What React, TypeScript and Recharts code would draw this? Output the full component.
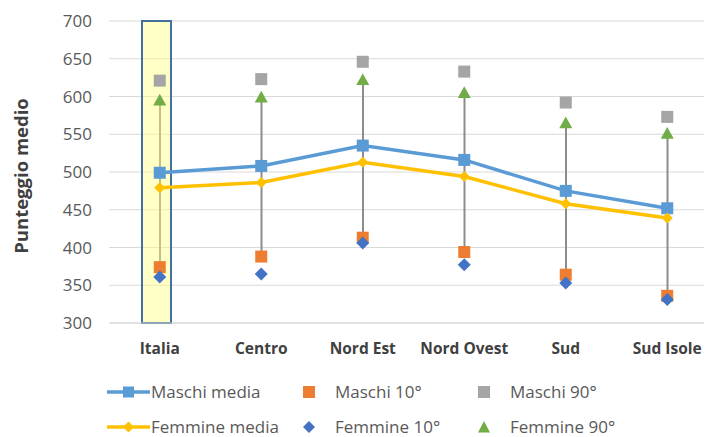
import { Bar, CartesianGrid, ComposedChart, Line, XAxis, YAxis } from 'recharts';

const categories = ['Italia', 'Centro', 'Nord Est', 'Nord Ovest', 'Sud', 'Sud Isole'];
const maschiMedia = [499, 508, 535, 516, 475, 452];
const femmineMedia = [479, 486, 513, 494, 458, 439];
const maschi10 = [374, 388, 413, 394, 364, 336];
const femmine10 = [361, 365, 406, 377, 353, 331];
const maschi90 = [621, 623, 646, 633, 592, 573];
const femmine90 = [595, 599, 622, 605, 565, 551];
const highlighted = ['Italia'];
const yTicks = [300, 350, 400, 450, 500, 550, 600, 650, 700];

const FONT = '"Open Sans", sans-serif';
const BLUE = '#5B9BD5';
const YELLOW = '#FFC000';
const ORANGE = '#ED7D31';
const GRAY = '#A5A5A5';
const DBLUE = '#4472C4';
const GREEN = '#70AD47';

const data = categories.map((name, i) => ({
  name,
  maschiMedia: maschiMedia[i],
  femmineMedia: femmineMedia[i],
  maschi10: maschi10[i],
  femmine10: femmine10[i],
  maschi90: maschi90[i],
  femmine90: femmine90[i],
  range: [maschi10[i], femmine90[i]],
  box: highlighted.includes(name) ? [yTicks[0], yTicks[yTicks.length - 1]] : null,
}));

const square = (color: string, size: number) => (p: any) => {
  if (p.cx == null || p.cy == null) return <g key={p.key} />;
  return <rect key={p.key} x={p.cx - size / 2} y={p.cy - size / 2} width={size} height={size} fill={color} />;
};

const diamond = (color: string, r: number) => (p: any) => {
  if (p.cx == null || p.cy == null) return <g key={p.key} />;
  const { cx, cy } = p;
  return <path key={p.key} d={`M${cx},${cy - r}L${cx + r},${cy}L${cx},${cy + r}L${cx - r},${cy}Z`} fill={color} />;
};

const triangle = (color: string, r: number) => (p: any) => {
  if (p.cx == null || p.cy == null) return <g key={p.key} />;
  const { cx, cy } = p;
  return <path key={p.key} d={`M${cx},${cy - r}L${cx + r},${cy + r * 0.8}L${cx - r},${cy + r * 0.8}Z`} fill={color} />;
};

const BoxShape = (p: any) => {
  if (!p.height) return null;
  return (
    <rect
      x={p.x - 3}
      y={p.y}
      width={p.width}
      height={p.height}
      fill="#FFFF80"
      fillOpacity={0.45}
      stroke="#41719C"
      strokeWidth={2}
    />
  );
};

// legend rows: centre y inside the wrapper
const legendItems = [
  { label: 'Maschi media', kind: 'lineSquare', color: BLUE, left: 99, cy: 384 },
  { label: 'Maschi 10°', kind: 'square', color: ORANGE, left: 285, cy: 384 },
  { label: 'Maschi 90°', kind: 'square', color: GRAY, left: 460, cy: 384 },
  { label: 'Femmine media', kind: 'lineDiamond', color: YELLOW, left: 99, cy: 419 },
  { label: 'Femmine 10°', kind: 'diamond', color: DBLUE, left: 285, cy: 419 },
  { label: 'Femmine 90°', kind: 'triangle', color: GREEN, left: 460, cy: 419 },
];

const LegendIcon = ({ kind, color }: { kind: string; color: string }) => {
  if (kind === 'lineSquare' || kind === 'lineDiamond') {
    return (
      <svg width={43} height={16} style={{ display: 'block' }}>
        <line x1={0} y1={8} x2={43} y2={8} stroke={color} strokeWidth={3.5} />
        {kind === 'lineSquare' ? (
          <rect x={16} y={2.5} width={11} height={11} fill={color} />
        ) : (
          <path d="M21.5,2.5L27,8L21.5,13.5L16,8Z" fill={color} />
        )}
      </svg>
    );
  }
  return (
    <svg width={30} height={16} style={{ display: 'block' }}>
      {kind === 'square' && <rect x={10} y={2} width={12} height={12} fill={color} />}
      {kind === 'diamond' && <path d="M16,2L22,8L16,14L10,8Z" fill={color} />}
      {kind === 'triangle' && <path d="M16,2L22,13.5L10,13.5Z" fill={color} />}
    </svg>
  );
};

const App = () => {
  return (
    <div style={{ position: 'relative', width: 704, height: 429, fontFamily: FONT }}>
      <ComposedChart
        width={704}
        height={429}
        data={data}
        margin={{ top: 13, right: -6, left: 0, bottom: 84 }}
        barGap={0}
      >
        <CartesianGrid vertical={false} stroke="#D9D9D9" />
        <XAxis
          dataKey="name"
          axisLine={{ stroke: '#D9D9D9' }}
          tickLine={false}
          tickMargin={14}
          height={30}
          interval={0}
          tick={{ fill: '#404040', fontSize: 15.5, fontWeight: 700, fontFamily: FONT }}
        />
        <XAxis xAxisId="hl" dataKey="name" hide />
        <YAxis
          domain={[300, 700]}
          ticks={yTicks}
          width={101}
          axisLine={false}
          tickLine={false}
          tickMargin={11}
          interval={0}
          tick={{ fill: '#595959', fontSize: 17, fontFamily: FONT }}
          label={{
            content: (p: any) => {
              const vb = p.viewBox;
              const cx = vb.x + 12;
              const cy = vb.y + vb.height / 2 + 4;
              return (
                <text
                  x={cx}
                  y={cy}
                  transform={`rotate(-90 ${cx} ${cy})`}
                  textAnchor="middle"
                  dominantBaseline="central"
                  fill="#404040"
                  fontSize={18.5}
                  fontWeight={700}
                  fontFamily={FONT}
                >
                  Punteggio medio
                </text>
              );
            },
          }}
        />
        <Bar dataKey="range" barSize={2} fill="#8C8C8C" isAnimationActive={false} />
        <Line
          dataKey="maschiMedia"
          stroke={BLUE}
          strokeWidth={3.5}
          dot={square(BLUE, 12)}
          activeDot={false}
          isAnimationActive={false}
        />
        <Line
          dataKey="femmineMedia"
          stroke={YELLOW}
          strokeWidth={3.5}
          dot={diamond(YELLOW, 5.5)}
          activeDot={false}
          isAnimationActive={false}
        />
        <Line dataKey="maschi10" stroke="none" dot={square(ORANGE, 12)} activeDot={false} isAnimationActive={false} />
        <Line dataKey="femmine10" stroke="none" dot={diamond(DBLUE, 6.5)} activeDot={false} isAnimationActive={false} />
        <Line dataKey="maschi90" stroke="none" dot={square(GRAY, 12)} activeDot={false} isAnimationActive={false} />
        <Line dataKey="femmine90" stroke="none" dot={triangle(GREEN, 6.5)} activeDot={false} isAnimationActive={false} />
        <Bar xAxisId="hl" dataKey="box" barSize={29} shape={BoxShape} isAnimationActive={false} />
      </ComposedChart>
      {legendItems.map((item) => (
        <div
          key={item.label}
          style={{
            position: 'absolute',
            left: item.left,
            top: item.cy - 10,
            height: 20,
            display: 'flex',
            alignItems: 'center',
            whiteSpace: 'nowrap',
            color: '#595959',
            fontSize: 17,
            lineHeight: '20px',
          }}
        >
          <LegendIcon kind={item.kind} color={item.color} />
          <span style={{ marginLeft: item.kind.startsWith('line') ? 1 : 12 }}>{item.label}</span>
        </div>
      ))}
    </div>
  );
};

export default App;
